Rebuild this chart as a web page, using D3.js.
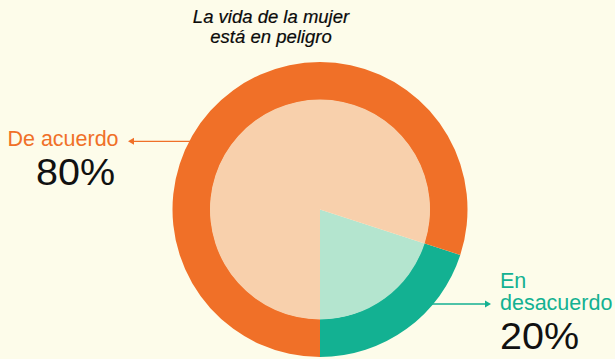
<!DOCTYPE html>
<html>
<head>
<meta charset="utf-8">
<script src="https://cdn.jsdelivr.net/npm/d3@7"></script>
<style>
  html, body { margin: 0; padding: 0; background: #FDFCEA; }
  svg { display: block; font-family: "Liberation Sans", Arial, Helvetica, sans-serif; }
</style>
</head>
<body>
<svg id="chart" width="615" height="359"></svg>
<script>
// Survey answers
const categories = ["En desacuerdo", "De acuerdo"];
const values = [20, 80];
const labelLines = [["En", "desacuerdo"], ["De acuerdo"]];
const valueLabels = ["20%", "80%"];
const titleLines = ["La vida de la mujer", "está en peligro"];

const ringColors = ["#13B192", "#F07028"];
const fillColors = ["#B4E5CF", "#F8D0AC"];

const svg = d3.select("#chart");
const cx = 320, cy = 209.5;
const rOuter = 147.5, rInner = 110;

// Title
svg.append("text")
  .attr("x", 271).attr("y", 23)
  .attr("text-anchor", "middle")
  .style("font-style", "italic")
  .style("font-size", "18.5px")
  .attr("fill", "#0a0a0a")
  .attr("stroke", "#0a0a0a").attr("stroke-width", 0.2)
  .selectAll("tspan").data(titleLines).join("tspan")
  .attr("x", 271).attr("dy", (d, i) => i === 0 ? 0 : 20)
  .text(d => d);

// Pie: the smaller slice ends at the bottom of the circle
const share = values[0] / d3.sum(values);
const start = Math.PI - share * 2 * Math.PI;
const pie = d3.pie().sort(null).startAngle(start).endAngle(start + 2 * Math.PI);
const arcs = pie(values);

const g = svg.append("g").attr("transform", `translate(${cx},${cy})`);

// Leader lines with arrowheads (drawn under the pie)
const leaders = [
  { y: 304, x1: 491, dir: 1 },
  { y: 141.3, x1: 128, dir: -1 }
];
leaders.forEach((l, i) => {
  const dy = l.y - cy;
  const dx = Math.sqrt(rOuter * rOuter - dy * dy);
  const xStart = cx + l.dir * (dx - 2);
  svg.append("line")
    .attr("x1", xStart).attr("y1", l.y)
    .attr("x2", l.x1 - l.dir * 3).attr("y2", l.y)
    .attr("stroke", ringColors[i]).attr("stroke-width", 1.3);
  const tip = l.x1, base = l.x1 - l.dir * 6;
  svg.append("path")
    .attr("d", `M${tip},${l.y}L${base},${l.y - 3.5}L${base},${l.y + 3.5}Z`)
    .attr("fill", ringColors[i]);
});

g.selectAll("path.ring").data(arcs).join("path")
  .attr("class", "ring")
  .attr("d", d3.arc().innerRadius(rInner - 0.5).outerRadius(rOuter))
  .attr("fill", (d, i) => ringColors[i]);

g.selectAll("path.core").data(arcs).join("path")
  .attr("class", "core")
  .attr("d", d3.arc().innerRadius(0).outerRadius(rInner))
  .attr("fill", (d, i) => fillColors[i]);

// Category labels and percentages
const labelPos = [
  { x: 500, y: 288, anchor: "start", vx: 500, vy: 349 },
  { x: 63, y: 146, anchor: "middle", vx: 75.5, vy: 185 }
];
labelPos.forEach((p, i) => {
  svg.append("text")
    .attr("x", p.x).attr("y", p.y)
    .attr("text-anchor", p.anchor)
    .style("font-size", "21.5px")
    .attr("fill", ringColors[i])
    .selectAll("tspan").data(labelLines[i]).join("tspan")
    .attr("x", p.x).attr("dy", (d, j) => j === 0 ? 0 : 22)
    .text(d => d);
  svg.append("text")
    .attr("x", p.vx).attr("y", p.vy)
    .attr("text-anchor", p.anchor)
    .style("font-size", "36px")
    .attr("fill", "#111")
    .attr("textLength", 79)
    .attr("lengthAdjust", "spacingAndGlyphs")
    .text(valueLabels[i]);
});
</script>
</body>
</html>
